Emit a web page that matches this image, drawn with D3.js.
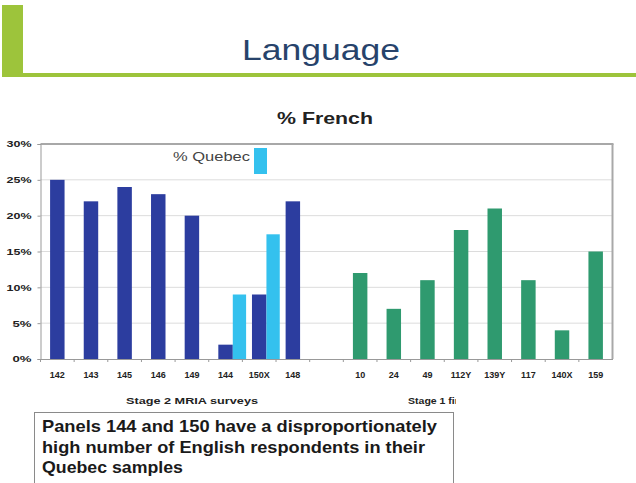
<!DOCTYPE html>
<html>
<head>
<meta charset="utf-8">
<script src="https://cdn.jsdelivr.net/npm/d3@7/dist/d3.min.js"></script>
<style>
  html, body { margin: 0; padding: 0; background: #fff; }
  svg { display: block; }
</style>
</head>
<body>
<svg id="chart" width="636" height="483"></svg>
<script>
// Panels, in plotting order; "" is the spacer slot between the two groups
const panels = ["142", "143", "145", "146", "149", "144", "150X", "148", "",
                "10", "24", "49", "112Y", "139Y", "117", "140X", "159"];
// % French for the Stage 2 MRIA panels
const stage2 = {"142": 25, "143": 22, "145": 24, "146": 23, "149": 20, "144": 2, "150X": 9, "148": 22};
// % Quebec for the two panels with Quebec samples
const quebec = {"144": 9, "150X": 17.4};
// % French for the Stage 1 panels
const stage1 = {"10": 12, "24": 7, "49": 11, "112Y": 18, "139Y": 21, "117": 11, "140X": 4, "159": 15};
const yTicks = [0, 5, 10, 15, 20, 25, 30];

const svg = d3.select("#chart");
const font = "Arial, 'Liberation Sans', sans-serif";

// Slide header: green bar and rule
svg.append("rect").attr("x", 2).attr("y", 5).attr("width", 21).attr("height", 71).attr("fill", "#9dc43b");
svg.append("rect").attr("x", 2).attr("y", 73).attr("width", 634).attr("height", 4).attr("fill", "#9dc43b");
svg.append("text").attr("x", 242).attr("y", 60)
  .attr("textLength", 158).attr("lengthAdjust", "spacingAndGlyphs")
  .attr("font-family", font).attr("font-size", 29).attr("fill", "#27436b").text("Language");

// Chart title
svg.append("text").attr("x", 277).attr("y", 124)
  .attr("textLength", 96).attr("lengthAdjust", "spacingAndGlyphs")
  .attr("font-family", font).attr("font-size", 17).attr("font-weight", "bold").attr("fill", "#222")
  .text("% French");

const plot = {left: 40.5, right: 612.5, top: 144, bottom: 359};
const x = d3.scaleBand().domain(panels).range([plot.left, plot.right]).padding(0);
const y = d3.scaleLinear().domain([0, 30]).range([plot.bottom, plot.top]);
const bw = x.bandwidth() * 0.43;

// Gridlines
svg.append("g").selectAll("line").data(yTicks.filter(t => t > 0 && t < 30)).join("line")
  .attr("x1", plot.left).attr("x2", plot.right)
  .attr("y1", d => y(d)).attr("y2", d => y(d))
  .attr("stroke", "#dcdcdc").attr("stroke-width", 1);

// Frame
svg.append("line").attr("x1", plot.left).attr("x2", plot.right + 1).attr("y1", plot.top).attr("y2", plot.top)
  .attr("stroke", "#a8a8a8").attr("stroke-width", 2);
svg.append("line").attr("x1", plot.right).attr("x2", plot.right).attr("y1", plot.top).attr("y2", plot.bottom)
  .attr("stroke", "#a8a8a8").attr("stroke-width", 2);

// Y axis
const yAxis = svg.append("g").attr("transform", `translate(${plot.left},0)`)
  .call(d3.axisLeft(y).tickValues(yTicks).tickFormat(d => d + "%").tickSize(3).tickPadding(6));
yAxis.select(".domain").attr("stroke", "#999");
yAxis.selectAll(".tick line").attr("stroke", "#999");
yAxis.selectAll("text").attr("font-family", font).attr("font-size", 9).attr("font-weight", "bold").attr("fill", "#222")
  .attr("textLength", d => d < 10 ? 19 : 25).attr("lengthAdjust", "spacingAndGlyphs");

// X axis
const xAxis = svg.append("g").attr("transform", `translate(0,${plot.bottom})`)
  .call(d3.axisBottom(x).tickSize(0).tickPadding(13));
xAxis.select(".domain").attr("stroke", "#999");
xAxis.selectAll("text").attr("font-family", font).attr("font-size", 9).attr("font-weight", "bold").attr("fill", "#222");
// category separators
svg.append("g").selectAll("line").data(panels).join("line")
  .attr("x1", d => x(d)).attr("x2", d => x(d))
  .attr("y1", plot.bottom).attr("y2", plot.bottom + 3)
  .attr("stroke", "#999");

const cx = d => x(d) + x.bandwidth() / 2;

// Stage 2 bars
svg.append("g").selectAll("rect").data(Object.keys(stage2)).join("rect")
  .attr("x", d => cx(d) - bw / 2).attr("width", bw)
  .attr("y", d => y(stage2[d])).attr("height", d => y(0) - y(stage2[d]))
  .attr("fill", "#2c3d9f");

// Quebec bars beside them
svg.append("g").selectAll("rect").data(Object.keys(quebec)).join("rect")
  .attr("x", d => cx(d) + bw / 2).attr("width", bw * 0.92)
  .attr("y", d => y(quebec[d])).attr("height", d => y(0) - y(quebec[d]))
  .attr("fill", "#34c1ee");

// Stage 1 bars
svg.append("g").selectAll("rect").data(Object.keys(stage1)).join("rect")
  .attr("x", d => cx(d) - bw / 2).attr("width", bw)
  .attr("y", d => y(stage1[d])).attr("height", d => y(0) - y(stage1[d]))
  .attr("fill", "#2f9a6f");

// Legend
svg.append("text").attr("x", 173).attr("y", 161)
  .attr("textLength", 77).attr("lengthAdjust", "spacingAndGlyphs")
  .attr("font-family", font).attr("font-size", 12.5).attr("fill", "#444").text("% Quebec");
svg.append("rect").attr("x", 254).attr("y", 148).attr("width", 13).attr("height", 26).attr("fill", "#34c1ee");

// Group labels
svg.append("text").attr("x", 126).attr("y", 404)
  .attr("textLength", 132).attr("lengthAdjust", "spacingAndGlyphs")
  .attr("font-family", font).attr("font-size", 9.5).attr("font-weight", "bold").attr("fill", "#222")
  .text("Stage 2 MRIA surveys");
svg.append("defs").append("clipPath").attr("id", "stageClip")
  .append("rect").attr("x", 380).attr("y", 390).attr("width", 76).attr("height", 20);
svg.append("text").attr("x", 408).attr("y", 404).attr("clip-path", "url(#stageClip)")
  .attr("textLength", 62).attr("lengthAdjust", "spacingAndGlyphs")
  .attr("font-family", font).attr("font-size", 9.5).attr("font-weight", "bold").attr("fill", "#222")
  .text("Stage 1 final");

// Note box
svg.append("rect").attr("x", 34.5).attr("y", 412.5).attr("width", 419).attr("height", 80)
  .attr("fill", "#fff").attr("stroke", "#8a8a8a").attr("stroke-width", 1);
const note = [
  {text: "Panels 144 and 150 have a disproportionately", len: 395},
  {text: "high number of English respondents in their", len: 383},
  {text: "Quebec samples", len: 141}
];
svg.append("g").selectAll("text").data(note).join("text")
  .attr("x", 42).attr("y", (d, i) => 432 + i * 20.5)
  .attr("textLength", d => d.len).attr("lengthAdjust", "spacingAndGlyphs")
  .attr("font-family", font).attr("font-size", 16.5).attr("font-weight", "bold").attr("fill", "#1a1a1a")
  .text(d => d.text);
</script>
</body>
</html>
